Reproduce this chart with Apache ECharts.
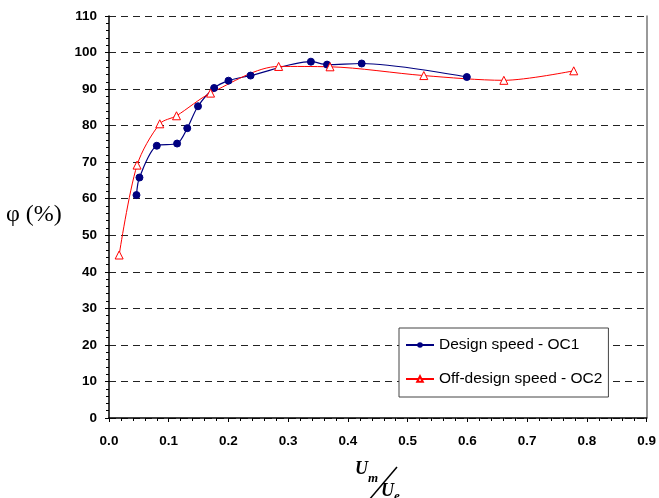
<!DOCTYPE html>
<html>
<head>
<meta charset="utf-8">
<script src="https://cdn.jsdelivr.net/npm/echarts@6/dist/echarts.min.js"></script>
<style>html,body{margin:0;padding:0;background:#fff;}#c{width:659px;height:498px;}</style>
</head>
<body>
<div id="c"></div>
<script>
var designX = [0.046, 0.051, 0.080, 0.114, 0.131, 0.149, 0.176, 0.200, 0.237, 0.338, 0.365, 0.423, 0.599];
var designY = [61.0, 65.8, 74.5, 75.1, 79.3, 85.3, 90.3, 92.3, 93.7, 97.5, 96.7, 97.0, 93.3];
var offX = [0.017, 0.047, 0.085, 0.113, 0.170, 0.284, 0.370, 0.527, 0.661, 0.778];
var offY = [44.6, 69.2, 80.5, 82.7, 88.9, 96.2, 96.1, 93.7, 92.4, 95.0];
var seriesNames = ['Design speed - OC1', 'Off-design speed - OC2'];
var xTicks = {min: 0, max: 0.9, interval: 0.1};
var yTicks = {min: 0, max: 110, interval: 10};

function pairs(xs, ys) { return xs.map(function (x, i) { return [x, ys[i]]; }); }

var chart = echarts.init(document.getElementById('c'), null, {renderer: 'canvas'});
var tickFont = {color: '#000', fontFamily: 'Liberation Sans', fontWeight: 'bold', fontSize: 13.5};
chart.setOption({
  animation: false,
  backgroundColor: '#fff',
  grid: {left: 109, right: 12, top: 16, bottom: 80},
  legend: {
    left: 399, top: 328, orient: 'vertical',
    backgroundColor: '#fff', borderColor: '#444', borderWidth: 1,
    padding: [9, 6, 10, 6], itemGap: 18, itemWidth: 28, itemHeight: 7, itemTextGap: 5,
    textStyle: {fontFamily: 'Liberation Sans', fontSize: 15.5, color: '#000'},
    data: seriesNames
  },
  xAxis: {
    type: 'value', min: xTicks.min, max: xTicks.max, interval: xTicks.interval,
    axisLine: {lineStyle: {color: '#000', width: 1.5}},
    axisTick: {length: 4, lineStyle: {color: '#000'}},
    minorTick: {show: true, splitNumber: 5, length: 3, lineStyle: {color: '#000'}},
    splitLine: {show: false},
    axisLabel: Object.assign({margin: 16, formatter: function (v) { return v.toFixed(1); }}, tickFont)
  },
  yAxis: [{
    type: 'value', min: yTicks.min, max: yTicks.max, interval: yTicks.interval,
    axisLine: {show: true, lineStyle: {color: '#000', width: 1.5}},
    axisTick: {show: true, length: 4, lineStyle: {color: '#000'}},
    minorTick: {show: true, splitNumber: 5, length: 3, lineStyle: {color: '#000'}},
    splitLine: {show: true, lineStyle: {color: '#222', width: 1, type: [7, 5]}},
    axisLabel: Object.assign({margin: 12}, tickFont)
  }, {
    type: 'value', min: yTicks.min, max: yTicks.max, interval: yTicks.interval, position: 'right',
    axisLine: {show: true, lineStyle: {color: '#777', width: 1.5}},
    axisTick: {show: false}, axisLabel: {show: false}, splitLine: {show: false}
  }],
  series: [{
    name: seriesNames[0], type: 'line', data: pairs(designX, designY),
    smooth: 0.3, symbol: 'circle', symbolSize: 7,
    lineStyle: {color: '#000080', width: 1.2},
    itemStyle: {color: '#000080', borderColor: '#000080'}
  }, {
    name: seriesNames[1], type: 'line', data: pairs(offX, offY),
    smooth: 0.3, symbol: 'triangle', symbolSize: 8,
    lineStyle: {color: '#ff0000', width: 1},
    itemStyle: {color: '#fff', borderColor: '#ff0000', borderWidth: 1}
  }],
  graphic: [
    {type: 'text', left: 6, top: 203, style: {text: 'φ (%)', font: '24px "Liberation Serif"', fill: '#000'}},
    {type: 'text', x: 355, y: 469, style: {text: 'U', font: 'italic bold 18px "Liberation Serif"', fill: '#000', verticalAlign: 'middle'}},
    {type: 'text', x: 368, y: 479, style: {text: 'm', font: 'italic bold 13px "Liberation Serif"', fill: '#000', verticalAlign: 'middle'}},
    {type: 'line', shape: {x1: 397, y1: 467, x2: 369, y2: 500}, style: {stroke: '#000', lineWidth: 1.5}},
    {type: 'text', x: 381, y: 491, style: {text: 'U', font: 'italic bold 18px "Liberation Serif"', fill: '#000', verticalAlign: 'middle'}},
    {type: 'text', x: 394, y: 497, style: {text: 'e', font: 'italic bold 13px "Liberation Serif"', fill: '#000', verticalAlign: 'middle'}}
  ]
});
</script>
</body>
</html>
